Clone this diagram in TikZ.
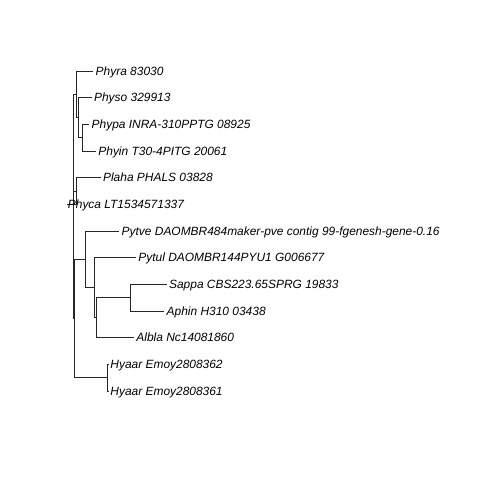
\documentclass[tikz,border=0pt]{standalone}
\usepackage{fontspec}
\setmainfont{Liberation Sans}
\begin{document}
\begin{tikzpicture}[x=1pt,y=-1pt,
  branch/.style={draw=black!85,line width=0.9pt},
  tiplabel/.style={anchor=west,inner sep=0pt,xshift=2.2pt,
    text height=8.6pt,text depth=0pt,font=\fontsize{11.95pt}{14pt}\selectfont\itshape}]
\useasboundingbox[fill=white] (0,0) rectangle (480,480);
% tips (y spacing 26.67)
\coordinate (t1)  at (93.3,71);
\coordinate (t2)  at (91.7,97.67);
\coordinate (t3)  at (89.3,124.33);
\coordinate (t4)  at (96,151);
\coordinate (t5)  at (100.7,177.67);
\coordinate (t6)  at (66.5,204.33);
\coordinate (t7)  at (119.3,231);
\coordinate (t8)  at (136,257.67);
\coordinate (t9)  at (166.7,284.33);
\coordinate (t10) at (164.3,311);
\coordinate (t11) at (134,337.67);
\coordinate (t12) at (108,364.33);
\coordinate (t13) at (108,391);
% internal nodes
\coordinate (n3)   at (82.7,137.67);
\coordinate (n2)   at (78.7,117.67);
\coordinate (n1)   at (76.3,94.33);
\coordinate (n4)   at (76.0,191);
\coordinate (nsa)  at (130,297.67);
\coordinate (nb3)  at (96.7,317.67);
\coordinate (nb2)  at (94.3,287.67);
\coordinate (nb)   at (85.5,259.33);
\coordinate (nc)   at (107.7,377.67);
\coordinate (nbc)  at (74.3,318.5);
\coordinate (root) at (73.3,191);
% branches
\draw[branch] (root) |- (n1);
\draw[branch] (root) |- (n4);
\draw[branch] (root) |- (nbc);
\draw[branch] (n1) |- (t1);
\draw[branch] (n1) |- (n2);
\draw[branch] (n2) |- (t2);
\draw[branch] (n2) |- (n3);
\draw[branch] (n3) |- (t3);
\draw[branch] (n3) |- (t4);
\draw[branch] (n4) |- (t5);
\draw[branch] (n4) |- (t6);
\draw[branch] (nbc) |- (nb);
\draw[branch] (nbc) |- (nc);
\draw[branch] (nb) |- (t7);
\draw[branch] (nb) |- (nb2);
\draw[branch] (nb2) |- (t8);
\draw[branch] (nb2) |- (nb3);
\draw[branch] (nb3) |- (nsa);
\draw[branch] (nb3) |- (t11);
\draw[branch] (nsa) |- (t9);
\draw[branch] (nsa) |- (t10);
\draw[branch] (nc) |- (t12);
\draw[branch] (nc) |- (t13);
% tip labels
\node[tiplabel] (l1)  at (t1)  {Phyra 83030};
\node[tiplabel] (l2)  at (t2)  {Physo 329913};
\node[tiplabel] (l3)  at (t3)  {Phypa INRA-310PPTG 08925};
\node[tiplabel] (l4)  at (t4)  {Phyin T30-4PITG 20061};
\node[tiplabel] (l5)  at (t5)  {Plaha PHALS 03828};
\node[tiplabel,xshift=-1pt] (l6) at (t6) {Phyca LT1534571337};
\node[tiplabel] (l7)  at (t7)  {Pytve DAOMBR484maker-pve contig 99-fgenesh-gene-0.16};
\node[tiplabel] (l8)  at (t8)  {Pytul DAOMBR144PYU1 G006677};
\node[tiplabel] (l9)  at (t9)  {Sappa CBS223.65SPRG 19833};
\node[tiplabel] (l10) at (t10) {Aphin H310 03438};
\node[tiplabel] (l11) at (t11) {Albla Nc14081860};
\node[tiplabel] (l12) at (t12) {Hyaar Emoy2808362};
\node[tiplabel] (l13) at (t13) {Hyaar Emoy2808361};
\end{tikzpicture}
\end{document}
